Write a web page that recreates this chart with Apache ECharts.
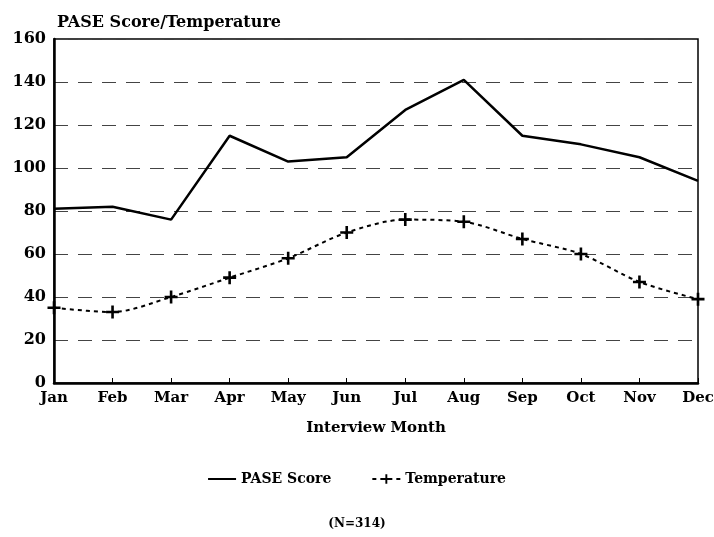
<!DOCTYPE html>
<html>
<head>
<meta charset="utf-8">
<script src="https://cdn.jsdelivr.net/npm/echarts@6/dist/echarts.min.js"></script>
<style>
  html, body { margin: 0; padding: 0; background: #fff; }
  #chart { width: 714px; height: 537px; }
</style>
</head>
<body>
<div id="chart"></div>
<script>
// data
var months = ['Jan', 'Feb', 'Mar', 'Apr', 'May', 'Jun', 'Jul', 'Aug', 'Sep', 'Oct', 'Nov', 'Dec']
var paseScore = [81, 82, 76, 115, 103, 105, 127, 141, 115, 111, 105, 94]
var temperature = [35, 33, 40, 49, 58, 70, 76, 75, 67, 60, 47, 39]

var font = 'DejaVu Serif'
var plusPath = 'path://M4,0h2v4h4v2h-4v4h-2v-4h-4v-2h4z'

var chart = echarts.init(document.getElementById('chart'))
chart.setOption({
  backgroundColor: '#fff',
  animation: false,
  title: [{
    text: 'PASE Score/Temperature',
    left: 52,
    top: 10,
    textStyle: { fontFamily: font, fontWeight: 'bold', fontSize: 16, color: '#000' }
  }, {
    text: '(N=314)',
    left: 'center',
    top: 513,
    textStyle: { fontFamily: font, fontWeight: 'bold', fontSize: 12, color: '#000' }
  }],
  grid: {
    left: 54,
    right: 16,
    top: 39,
    bottom: 154,
    outerBoundsMode: 'none',
    show: true,
    borderColor: '#000',
    borderWidth: 1.5
  },
  legend: {
    top: 467,
    left: 'center',
    itemGap: 40,
    itemWidth: 28,
    itemHeight: 12,
    textStyle: { fontFamily: font, fontWeight: 'bold', fontSize: 14, color: '#000' },
    data: [
      { name: 'PASE Score', icon: 'path://M0,5h28v2h-28z' },
      { name: 'Temperature' }
    ]
  },
  xAxis: {
    type: 'category',
    data: months,
    boundaryGap: false,
    name: 'Interview Month',
    nameLocation: 'middle',
    nameGap: 38,
    nameTextStyle: { fontFamily: font, fontWeight: 'bold', fontSize: 15, color: '#000' },
    axisLine: { lineStyle: { color: '#000', width: 2.5 } },
    axisTick: { inside: true, length: 5, lineStyle: { color: '#000' } },
    axisLabel: { fontFamily: font, fontWeight: 'bold', fontSize: 15, color: '#000', margin: 8 },
    splitLine: { show: false }
  },
  yAxis: {
    type: 'value',
    min: 0,
    max: 160,
    interval: 20,
    axisLine: { show: true, lineStyle: { color: '#000', width: 2.5 } },
    axisTick: { show: false },
    axisLabel: { fontFamily: font, fontWeight: 'bold', fontSize: 16, color: '#000', margin: 8 },
    splitLine: { show: true, lineStyle: { color: '#444', width: 1, type: [14, 10] } }
  },
  series: [{
    name: 'PASE Score',
    type: 'line',
    data: paseScore,
    symbol: 'none',
    lineStyle: { color: '#000', width: 2.5 },
    itemStyle: { color: '#000' }
  }, {
    name: 'Temperature',
    type: 'line',
    data: temperature,
    smooth: 0.3,
    symbol: plusPath,
    symbolSize: 13,
    lineStyle: { color: '#000', width: 2, type: [4, 4] },
    itemStyle: { color: '#000' }
  }]
})
</script>
</body>
</html>
